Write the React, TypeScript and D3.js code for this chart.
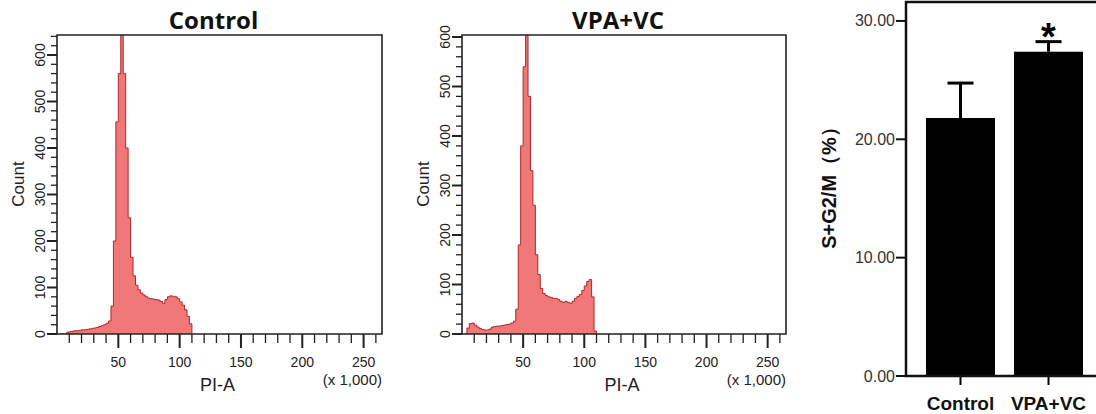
import React, { useEffect, useRef } from "react";
import * as d3 from "d3";

// PI-A bin starts (x 1,000), bin width 2
const binStarts = [
  2, 4, 6, 8, 10, 12, 14, 16, 18, 20, 22, 24, 26, 28, 30, 32, 34, 36, 38, 40,
  42, 44, 46, 48, 50, 52, 54, 56, 58, 60, 62, 64, 66, 68, 70, 72, 74, 76, 78, 80,
  82, 84, 86, 88, 90, 92, 94, 96, 98, 100, 102, 104, 106, 108, 110,
];
const controlCounts = [
  0, 0, 0, 4, 5, 6, 7, 7, 8, 9, 9, 10, 11, 12, 13, 14, 16, 18, 20, 23,
  28, 60, 200, 456, 560, 680, 560, 400, 250, 165, 125, 105, 95, 88, 84, 80, 77, 76, 75, 74,
  73, 70, 66, 74, 80, 82, 81, 80, 76, 69, 62, 52, 38, 22, 0,
];
const vpaCounts = [
  0, 12, 21, 22, 18, 14, 11, 9, 8, 8, 10, 14, 15, 16, 16, 17, 18, 19, 20, 22,
  26, 50, 180, 380, 540, 650, 480, 330, 260, 160, 120, 92, 82, 78, 75, 74, 72, 72, 70, 66,
  64, 66, 64, 62, 66, 72, 76, 80, 88, 97, 106, 110, 75, 6, 0,
];

// bar chart: S+G2/M (%)
const groups = ["Control", "VPA+VC"];
const means = [21.8, 27.4];
const sems = [2.95, 0.85];
const barTicks = [0, 10, 20, 30];

const FONT = "'Liberation Sans', Arial, sans-serif";

function drawHistogram(svg, opt) {
  const { left, right, top, bottom, yMax, counts, title } = opt;
  const g = svg.append("g");
  const x = d3.scaleLinear().domain([0, 265]).range([left, right]);
  const y = d3.scaleLinear().domain([0, yMax]).range([bottom, top]);

  const pts = binStarts.map((b, i) => [b, counts[i]]);
  const clipId = "clip-" + title.replace(/\W/g, "");
  g.append("clipPath")
    .attr("id", clipId)
    .append("rect")
    .attr("x", left)
    .attr("y", top)
    .attr("width", right - left)
    .attr("height", bottom - top);

  const area = d3
    .area()
    .x((d) => x(d[0]))
    .y0(y(0))
    .y1((d) => y(d[1]))
    .curve(d3.curveStepAfter);
  const line = d3
    .line()
    .x((d) => x(d[0]))
    .y((d) => y(d[1]))
    .curve(d3.curveStepAfter);

  const hg = g.append("g").attr("clip-path", `url(#${clipId})`);
  hg.append("path").attr("d", area(pts)).attr("fill", "#f07878");
  hg.append("path")
    .attr("d", line(pts))
    .attr("fill", "none")
    .attr("stroke", "#b02828")
    .attr("stroke-width", 1);

  // frame
  g.append("path")
    .attr("d", `M${left},${bottom}V${top}H${right}V${bottom}H${left}`)
    .attr("fill", "none")
    .attr("stroke", "#222")
    .attr("stroke-width", 1.6);

  // x ticks
  const xt = d3.range(10, 261, 10);
  xt.forEach((v) => {
    const major = v % 50 === 0;
    g.append("line")
      .attr("x1", x(v))
      .attr("x2", x(v))
      .attr("y1", bottom)
      .attr("y2", bottom + (major ? 14 : 9))
      .attr("stroke", "#222")
      .attr("stroke-width", major ? 2 : 1.3);
    if (major) {
      g.append("text")
        .attr("x", x(v))
        .attr("y", bottom + 33)
        .attr("text-anchor", "middle")
        .attr("font-family", FONT)
        .attr("font-size", 14)
        .attr("fill", "#222")
        .text(v);
    }
  });

  // y ticks
  const yt = d3.range(0, yMax + 1, 20);
  yt.forEach((v) => {
    const major = v % 100 === 0;
    g.append("line")
      .attr("x1", left)
      .attr("x2", left - (major ? 10 : 6))
      .attr("y1", y(v))
      .attr("y2", y(v))
      .attr("stroke", "#222")
      .attr("stroke-width", major ? 2 : 1.3);
    if (major) {
      g.append("text")
        .attr("transform", `translate(${left - 17},${y(v)}) rotate(-90)`)
        .attr("text-anchor", "middle")
        .attr("dominant-baseline", "central")
        .attr("font-family", FONT)
        .attr("font-size", 14)
        .attr("fill", "#222")
        .text(v);
    }
  });

  g.append("text")
    .attr("x", (left + right) / 2 - 6)
    .attr("y", 29)
    .attr("text-anchor", "middle")
    .attr("font-family", "'Open Sans', sans-serif")
    .attr("font-weight", 700)
    .attr("font-size", 24)
    .attr("fill", "#111")
    .text(title);

  g.append("text")
    .attr("x", (left + right) / 2 - 2)
    .attr("y", 391)
    .attr("text-anchor", "middle")
    .attr("font-family", FONT)
    .attr("font-size", 18)
    .attr("fill", "#222")
    .text("PI-A");

  g.append("text")
    .attr("x", right)
    .attr("y", 385)
    .attr("text-anchor", "end")
    .attr("font-family", FONT)
    .attr("font-size", 15)
    .attr("fill", "#222")
    .text("(x 1,000)");

  g.append("text")
    .attr("transform", `translate(${left - 39},184) rotate(-90)`)
    .attr("text-anchor", "middle")
    .attr("dominant-baseline", "central")
    .attr("font-family", FONT)
    .attr("font-size", 17)
    .attr("fill", "#222")
    .text("Count");
}

function drawBars(svg) {
  const left = 906;
  const bottom = 376;
  const top = 2;
  const g = svg.append("g");
  const x = d3
    .scaleBand()
    .domain(groups)
    .range([left, 1103])
    .paddingInner(0.216)
    .paddingOuter(0.227);
  const y = d3.scaleLinear().domain([0, 31.6]).range([bottom, top]);

  groups.forEach((name, i) => {
    const cx = x(name) + x.bandwidth() / 2;
    g.append("rect")
      .attr("x", x(name))
      .attr("y", y(means[i]))
      .attr("width", x.bandwidth())
      .attr("height", y(0) - y(means[i]))
      .attr("fill", "#000");
    const et = y(means[i] + sems[i]);
    g.append("line")
      .attr("x1", cx)
      .attr("x2", cx)
      .attr("y1", y(means[i]))
      .attr("y2", et)
      .attr("stroke", "#000")
      .attr("stroke-width", 3);
    g.append("line")
      .attr("x1", cx - 13)
      .attr("x2", cx + 13)
      .attr("y1", et)
      .attr("y2", et)
      .attr("stroke", "#000")
      .attr("stroke-width", 3);
    g.append("line")
      .attr("x1", cx)
      .attr("x2", cx)
      .attr("y1", bottom)
      .attr("y2", bottom + 9)
      .attr("stroke", "#000")
      .attr("stroke-width", 2);
    g.append("text")
      .attr("x", cx)
      .attr("y", 410)
      .attr("text-anchor", "middle")
      .attr("font-family", FONT)
      .attr("font-weight", 700)
      .attr("font-size", 19)
      .attr("fill", "#111")
      .text(name);
  });

  // significance mark over VPA+VC
  const vx = x(groups[1]) + x.bandwidth() / 2;
  g.append("text")
    .attr("x", vx)
    .attr("y", y(means[1] + sems[1]) + 8)
    .attr("text-anchor", "middle")
    .attr("font-family", FONT)
    .attr("font-weight", 700)
    .attr("font-size", 38)
    .attr("fill", "#000")
    .text("*");

  // frame
  g.append("path")
    .attr("d", `M1100,${top}H${left}V${bottom}H1100`)
    .attr("fill", "none")
    .attr("stroke", "#111")
    .attr("stroke-width", 2.5);

  barTicks.forEach((v) => {
    g.append("line")
      .attr("x1", left)
      .attr("x2", left - 10)
      .attr("y1", y(v))
      .attr("y2", y(v))
      .attr("stroke", "#111")
      .attr("stroke-width", 2);
    g.append("text")
      .attr("x", left - 11)
      .attr("y", y(v))
      .attr("text-anchor", "end")
      .attr("dominant-baseline", "central")
      .attr("font-family", FONT)
      .attr("font-size", 16)
      .attr("fill", "#333")
      .text(v.toFixed(2));
  });

  g.append("text")
    .attr("transform", `translate(829,183) rotate(-90)`)
    .attr("text-anchor", "middle")
    .attr("dominant-baseline", "central")
    .attr("font-family", FONT)
    .attr("font-weight", 700)
    .attr("font-size", 20)
    .attr("fill", "#111")
    .text("S+G2/M（%）");
}

export default function App() {
  const ref = useRef(null);
  useEffect(() => {
    const svg = d3.select(ref.current);
    svg.selectAll("*").remove();
    svg.append("rect").attr("width", 1096).attr("height", 414).attr("fill", "#fff");
    drawHistogram(svg, {
      left: 57,
      right: 382,
      top: 35,
      bottom: 334,
      yMax: 643,
      counts: controlCounts,
      title: "Control",
    });
    drawHistogram(svg, {
      left: 462,
      right: 786,
      top: 35,
      bottom: 334,
      yMax: 604,
      counts: vpaCounts,
      title: "VPA+VC",
    });
    drawBars(svg);
  }, []);
  return (
    <svg
      ref={ref}
      width={1096}
      height={414}
      style={{ position: "absolute", left: 0, top: 0 }}
    />
  );
}
